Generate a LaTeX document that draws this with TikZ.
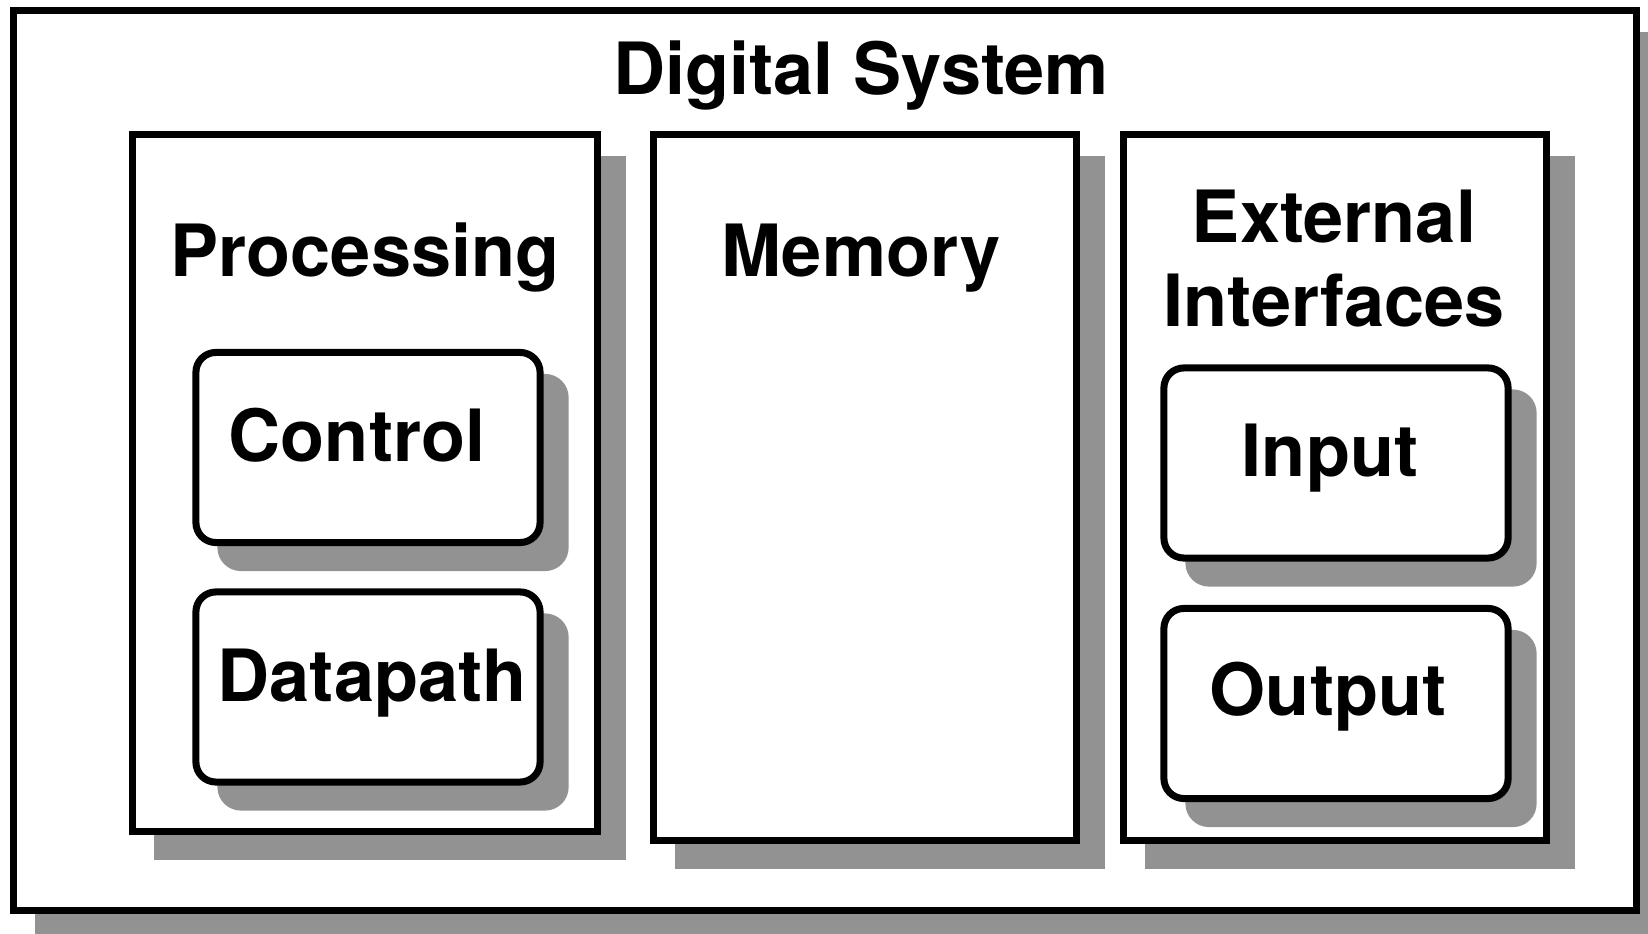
\documentclass[tikz,border=0pt]{standalone}
\usepackage{fontspec}
\setmainfont{TeX Gyre Heros}
\usetikzlibrary{shadows}

\definecolor{shadowgray}{RGB}{146,146,146}

\tikzset{
  box/.style={rectangle, draw, fill=white, line width=2pt, inner sep=0pt,
    drop shadow={shadow xshift=.25cm, shadow yshift=-.25cm,
      fill=shadowgray, draw=shadowgray, opacity=1}},
  column/.style={box, minimum width=4.22cm, minimum height=7.05cm},
  unit/.style={box, rounded corners=.2cm, minimum width=3.44cm, minimum height=1.9cm},
  heading/.style={font=\fontsize{20.5}{24}\selectfont\bfseries, anchor=base, inner sep=0pt, align=center},
}

\begin{document}
\begin{tikzpicture}[x=0.01cm, y=-0.01cm]
		\useasboundingbox (0,0) rectangle (1648,934);
		% outer frame
		\node[box, minimum width=16.22cm, minimum height=8.99cm] (system) at (825,460.5) {};
		\node[heading] (systemtitle) at (861,95) {Digital System};
		% the three parts
		\node[box, minimum width=4.64cm, minimum height=6.96cm] (processing) at (365,483) {};
		\node[column] (memory) at (865,487.5) {};
		\node[column] (external) at (1335,487.5) {};
		\node[heading] (processingtitle) at (365,277) {Processing};
		\node[heading] (memorytitle) at (861,277) {Memory};
		\node[heading] (externaltitle) at (1334,327) {External\\Interfaces};
		% units inside
		\node[unit] (control) at (368,447.5) {};
		\node[unit] (datapath) at (368,687) {};
		\node[unit] (input) at (1336,463) {};
		\node[unit] (output) at (1336,703.5) {};
		\node[heading] (controltitle) at (357,462) {Control};
		\node[heading] (datapathtitle) at (372,702) {Datapath};
		\node[heading] (inputtitle) at (1330,477) {Input};
		\node[heading] (outputtitle) at (1328,716) {Output};
	\end{tikzpicture}
\end{document}
